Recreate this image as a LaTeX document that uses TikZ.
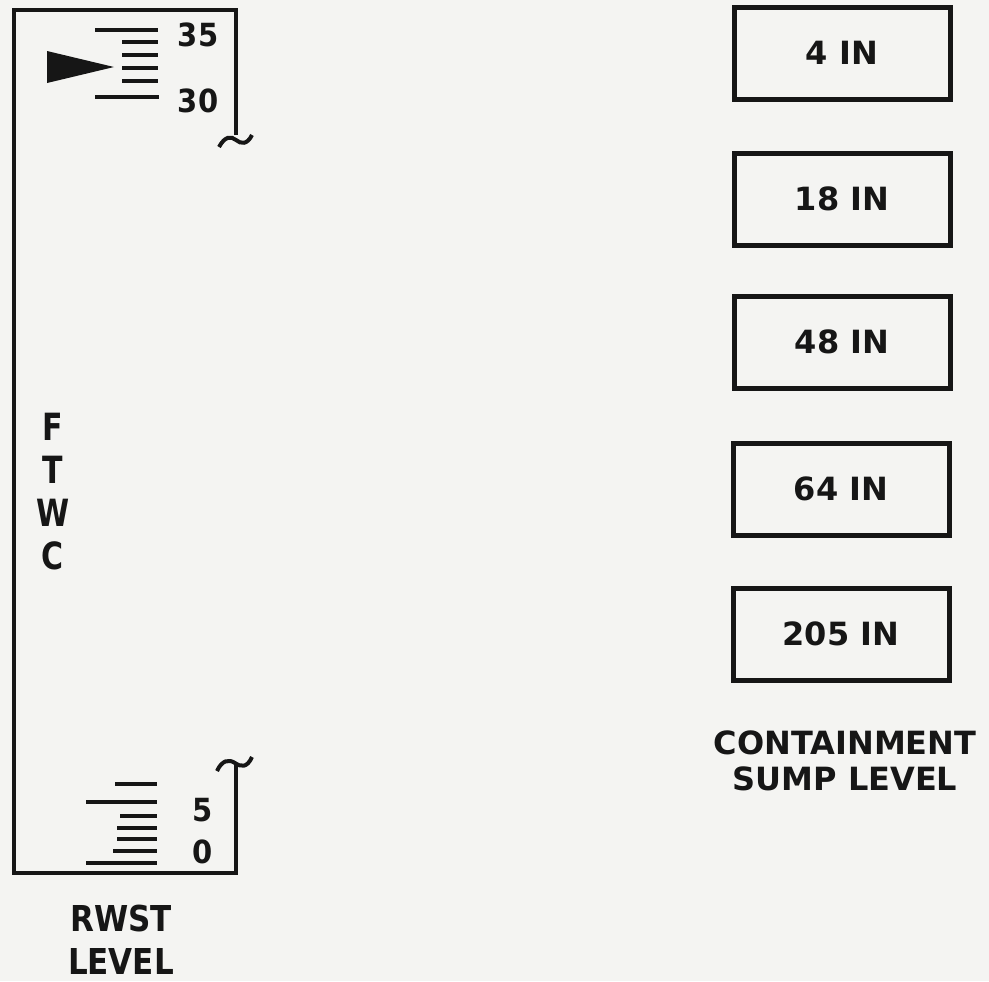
\documentclass[tikz,border=0pt]{standalone}
\usepackage{fontspec}
\setmainfont{DejaVu Sans}
\definecolor{bg}{RGB}{244,244,242}
\definecolor{ink}{RGB}{22,22,22}
\begin{document}
\begin{tikzpicture}[x=0.5pt,y=-0.5pt,
  frame/.style={draw=ink,line width=2.3pt,line join=miter},
  tick/.style={draw=ink,line width=1.8pt},
  box/.style={draw=ink,line width=2.5pt,minimum width=108pt,minimum height=46pt,inner sep=0pt,
    font=\bfseries\fontsize{16}{18}\selectfont,text=ink},
  num/.style={font=\bfseries\fontsize{14.5}{16}\selectfont,text=ink,inner sep=0pt},
  lbl/.style={font=\bfseries\fontsize{15.5}{18}\selectfont,text=ink,align=center,inner sep=0pt}]
\fill[bg] (0,0) rectangle (989,981);
\useasboundingbox (0,0) rectangle (989,981);
% RWST scale frame
\draw[frame] (236,135) -- (236,10) -- (14,10) -- (14,873) -- (236,873) -- (236,765);
\draw[frame,line width=2pt] (219,147) .. controls (225,136) and (231,136) .. (236,140)
  .. controls (241,144) and (247,145) .. (252,135);
\draw[frame,line width=2pt] (217,771) .. controls (222,760) and (229,759) .. (235,763)
  .. controls (241,767) and (247,768) .. (252,757);
% top ticks
\draw[tick] (95,30) -- (158,30);
\foreach \yy in {42,55,68,81} \draw[tick] (122,\yy) -- (158,\yy);
\draw[tick] (95,97) -- (159,97);
\node[num] (n35) at (198,35) {\scalebox{1}[1.1]{35}};
\node[num] (n30) at (198,101) {\scalebox{1}[1.1]{30}};
% pointer
\fill[ink] (47,51) -- (114,67) -- (47,83) -- cycle;
% bottom ticks
\draw[tick] (115,784) -- (157,784);
\draw[tick] (86,802) -- (157,802);
\draw[tick] (120,816) -- (157,816);
\draw[tick] (117,828) -- (157,828);
\draw[tick] (117,839) -- (157,839);
\draw[tick] (113,851) -- (157,851);
\draw[tick] (86,863) -- (157,863);
\node[num] (n5) at (203,810) {\scalebox{1}[1.1]{5}};
\node[num] (n0) at (203,852) {\scalebox{1}[1.1]{0}};
% FTWC
\node[lbl,font=\bfseries\fontsize{15}{21.5}\selectfont] (ftwc) at (53,492)
  {\scalebox{1}[1.25]{F}\\\scalebox{1}[1.25]{T}\\\scalebox{1}[1.25]{W}\\\scalebox{1}[1.25]{C}};
% RWST label
\node[lbl,font=\bfseries\fontsize{15.5}{21.5}\selectfont] (rwst) at (121,940)
  {\scalebox{1}[1.15]{RWST}\\\scalebox{1}[1.15]{LEVEL}};
% containment sump boxes
\node[box] (b1) at (842,53) {4 IN};
\node[box] (b2) at (842,199) {18 IN};
\node[box] (b3) at (842,342) {48 IN};
\node[box] (b4) at (841,489) {64 IN};
\node[box] (b5) at (841,634) {205 IN};
\node[lbl,font=\bfseries\fontsize{16}{18}\selectfont] (csl) at (845,761) {CONTAINMENT\\SUMP LEVEL};
\end{tikzpicture}
\end{document}
